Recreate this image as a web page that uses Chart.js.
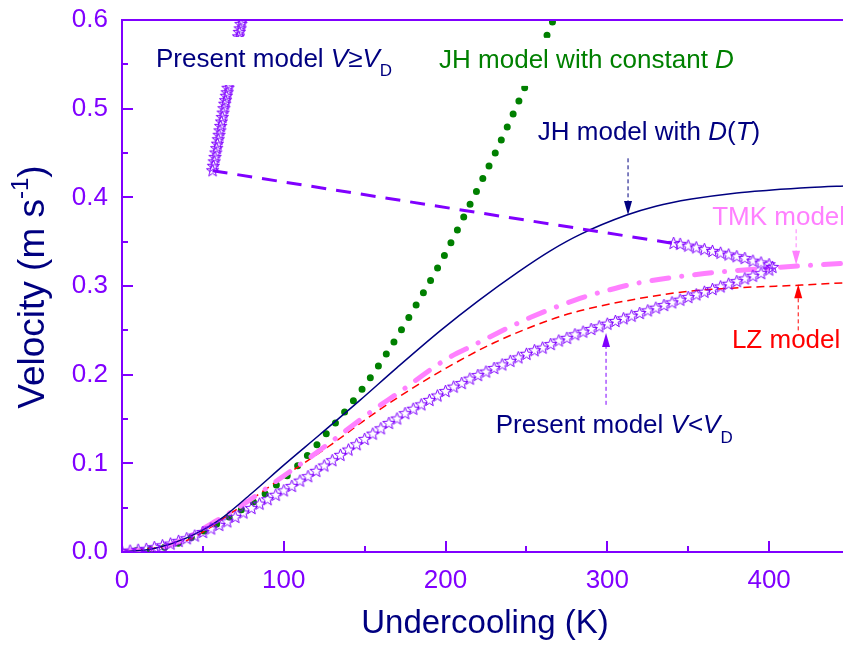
<!DOCTYPE html>
<html>
<head>
<meta charset="utf-8">
<title>Velocity vs undercooling</title>
<script src="https://cdn.jsdelivr.net/npm/chart.js@4.4.1/dist/chart.umd.min.js"></script>
<style>
  html, body { margin: 0; padding: 0; background: #fff; overflow: hidden; }
  #wrap { width: 870px; height: 646px; }
</style>
</head>
<body>
<div id="wrap"><canvas id="chart" width="870" height="646"></canvas></div>
<script>
const PURPLE = '#8000FF';
const NAVY = '#000080';
const GREEN = '#008000';
const PINK = '#FF80FF';
const RED = '#FF0000';
const FONT = '"Liberation Sans", Arial, Helvetica, sans-serif';

// axis ticks
const xTicks = [0, 100, 200, 300, 400];
const xMinor = [50, 150, 250, 350];
const yTicks = [0, 0.1, 0.2, 0.3, 0.4, 0.5, 0.6];
const yMinor = [0.05, 0.15, 0.25, 0.35, 0.45, 0.55];

// present model, V < V_D (lower branch out to the nose, then back)
const presentLowX = [0, 5, 10, 15, 20, 25, 30, 35, 40, 45, 50, 55, 60, 65, 70, 75, 80, 85, 90, 95,
  100, 105, 110, 115, 120, 125, 130, 135, 140, 145, 150, 155, 160, 165, 170, 175, 180, 185, 190, 195,
  200, 205, 210, 215, 220, 225, 230, 235, 240, 245, 250, 255, 260, 265, 270, 275, 280, 285, 290, 295,
  300, 305, 310, 315, 320, 325, 330, 335, 340, 345, 350, 355, 360, 365, 370, 375, 380, 385, 390, 395,
  400, 402, 400, 395, 390, 385, 380, 375, 370, 365, 360, 355, 350, 345, 341];
const presentLowY = [0.000, 0.001, 0.002, 0.003, 0.005, 0.007, 0.009, 0.012, 0.015, 0.018,
  0.022, 0.026, 0.030, 0.034, 0.039, 0.044, 0.049, 0.054, 0.059, 0.064,
  0.069, 0.074, 0.080, 0.085, 0.091, 0.097, 0.103, 0.109, 0.115, 0.121,
  0.127, 0.133, 0.139, 0.145, 0.150, 0.156, 0.161, 0.166, 0.171, 0.176,
  0.181, 0.186, 0.190, 0.195, 0.199, 0.203, 0.207, 0.211, 0.215, 0.219,
  0.223, 0.227, 0.230, 0.234, 0.238, 0.241, 0.245, 0.248, 0.251, 0.254,
  0.257, 0.260, 0.263, 0.266, 0.269, 0.272, 0.275, 0.278, 0.281, 0.284,
  0.287, 0.290, 0.293, 0.296, 0.299, 0.302, 0.305, 0.308, 0.311, 0.314,
  0.318, 0.321, 0.324, 0.326, 0.328, 0.331, 0.333, 0.335, 0.337, 0.339,
  0.341, 0.343, 0.345, 0.347, 0.348];

// present model, V >= V_D (steep branch)
const presentHighX = [56, 56.5, 57, 57.5, 58, 58.5, 59, 59.5, 60, 60.5, 61, 61.5, 62, 62.5, 63, 63.5,
  64, 64.5, 65, 65.5, 66, 66.5, 67, 67.5, 68, 68.5, 69, 69.5, 70, 70.5, 71, 71.5, 72, 72.5, 73, 73.5,
  74, 74.5, 75, 75.5, 76];
const presentHighY = [0.430, 0.435, 0.440, 0.445, 0.450, 0.455, 0.460, 0.465, 0.470, 0.475, 0.480,
  0.485, 0.490, 0.495, 0.500, 0.505, 0.509, 0.514, 0.518, 0.523, 0.527, 0.532, 0.536, 0.541, 0.545,
  0.550, 0.554, 0.559, 0.563, 0.568, 0.572, 0.577, 0.581, 0.586, 0.590, 0.595, 0.599, 0.604, 0.608,
  0.613, 0.617];

// jump between the two branches
const jumpX = [56, 341];
const jumpY = [0.430, 0.348];

// JH model with D(T)
const jhTempX = [0, 20, 40, 60, 80, 100, 122, 147, 170, 197, 220, 245, 265, 283, 312, 330, 352, 380, 400, 425, 450];
const jhTempY = [0, 0.004, 0.016, 0.036, 0.066, 0.098, 0.132, 0.171, 0.208, 0.250, 0.283, 0.316,
  0.340, 0.358, 0.380, 0.390, 0.398, 0.405, 0.408, 0.411, 0.413];

// JH model with constant D
const jhConstX = [0, 30, 60, 80, 93, 109, 128, 147, 165, 181, 198, 214, 232, 249, 265, 272];
const jhConstY = [0, 0.007, 0.033, 0.055, 0.072, 0.098, 0.137, 0.180, 0.228, 0.276, 0.330, 0.388,
  0.455, 0.524, 0.593, 0.625];

// TMK model
const tmkX = [0, 30, 60, 80, 97, 121, 153, 172, 200, 217, 240, 253, 283, 300, 318, 360, 406, 450];
const tmkY = [0, 0.008, 0.037, 0.060, 0.082, 0.113, 0.157, 0.181, 0.217, 0.233, 0.254, 0.265,
  0.286, 0.295, 0.303, 0.314, 0.321, 0.326];

// LZ model
const lzX = [0, 40, 70, 100, 130, 151, 172, 200, 230, 265, 283, 320, 350, 381, 420, 450];
const lzY = [0, 0.013, 0.047, 0.085, 0.122, 0.150, 0.176, 0.207, 0.236, 0.262, 0.272, 0.286,
  0.294, 0.298, 0.301, 0.304];

const toXY = (xs, ys) => xs.map((x, i) => ({ x: x, y: ys[i] }));

// open five-pointed star used as the point marker
function makeStar(r, color) {
  const c = document.createElement('canvas');
  const s = Math.ceil(r * 2 + 2);
  c.width = s;
  c.height = s;
  const g = c.getContext('2d');
  g.strokeStyle = color;
  g.lineWidth = 1;
  g.beginPath();
  for (let i = 0; i < 10; i++) {
    const rad = i % 2 ? r * 0.42 : r;
    const a = -Math.PI / 2 + i * Math.PI / 5;
    const px = s / 2 + rad * Math.cos(a);
    const py = s / 2 + rad * Math.sin(a);
    if (i) g.lineTo(px, py); else g.moveTo(px, py);
  }
  g.closePath();
  g.stroke();
  return c;
}
const starImg = makeStar(6.5, PURPLE);

// text notes (data coords of the left end of the baseline)
const notes = [
  { x: 21, y: 0.547, color: NAVY, bg: true,
    runs: [{ t: 'Present model ' }, { t: 'V', it: true }, { t: '\u2265' }, { t: 'V', it: true }, { t: 'D', sub: true }] },
  { x: 196, y: 0.546, color: GREEN, bg: true,
    runs: [{ t: 'JH model with constant ' }, { t: 'D', it: true }] },
  { x: 257, y: 0.465, color: NAVY,
    runs: [{ t: 'JH model with ' }, { t: 'D', it: true }, { t: '(' }, { t: 'T', it: true }, { t: ')' }] },
  { x: 364.8, y: 0.369, color: PINK, runs: [{ t: 'TMK model' }] },
  { x: 377, y: 0.230, color: RED, runs: [{ t: 'LZ model' }] },
  { x: 231, y: 0.134, color: NAVY,
    runs: [{ t: 'Present model ' }, { t: 'V', it: true }, { t: '<' }, { t: 'V', it: true }, { t: 'D', sub: true }] }
];

// dashed pointer arrows: x, tail y, tip y
const arrows = [
  { x: 312.8, from: 0.444, to: 0.380, color: NAVY },
  { x: 416.7, from: 0.364, to: 0.324, color: PINK },
  { x: 418, from: 0.250, to: 0.302, color: RED },
  { x: 299.2, from: 0.166, to: 0.247, color: PURPLE }
];

function drawRuns(ctx, x, y, runs, size, measureOnly) {
  let cx = x;
  runs.forEach(r => {
    const fs = (r.sub || r.sup) ? Math.round(size * 0.66) : size;
    ctx.font = (r.it ? 'italic ' : '') + fs + 'px ' + FONT;
    const dy = r.sub ? size * 0.36 : (r.sup ? -size * 0.42 : 0);
    if (!measureOnly) ctx.fillText(r.t, cx, y + dy);
    cx += ctx.measureText(r.t).width;
  });
  return cx - x;
}

const decorations = {
  id: 'decorations',
  afterDatasetsDraw(chart) {
    const { ctx, chartArea: a } = chart;
    const xs = chart.scales.x;
    const ys = chart.scales.y;
    ctx.save();

    // notes, some on a white box
    ctx.textBaseline = 'alphabetic';
    ctx.textAlign = 'left';
    notes.forEach(n => {
      const px = xs.getPixelForValue(n.x);
      const py = ys.getPixelForValue(n.y);
      const w = drawRuns(ctx, px, py, n.runs, 26, true);
      if (n.bg) {
        ctx.fillStyle = '#fff';
        ctx.fillRect(px - 4, py - 30, w + 8, 48);
      }
      ctx.fillStyle = n.color;
      drawRuns(ctx, px, py, n.runs, 26, false);
    });

    // arrows
    arrows.forEach(ar => {
      const px = xs.getPixelForValue(ar.x);
      const p0 = ys.getPixelForValue(ar.from);
      const p1 = ys.getPixelForValue(ar.to);
      const dir = p1 > p0 ? 1 : -1;
      const head = 14;
      ctx.strokeStyle = ar.color;
      ctx.fillStyle = ar.color;
      ctx.lineWidth = 1;
      ctx.setLineDash([4, 3]);
      ctx.beginPath();
      ctx.moveTo(px, p0);
      ctx.lineTo(px, p1 - dir * head);
      ctx.stroke();
      ctx.setLineDash([]);
      ctx.beginPath();
      ctx.moveTo(px, p1);
      ctx.lineTo(px - 4, p1 - dir * head);
      ctx.lineTo(px + 4, p1 - dir * head);
      ctx.closePath();
      ctx.fill();
    });

    // top frame line
    ctx.strokeStyle = PURPLE;
    ctx.lineWidth = 2;
    ctx.beginPath();
    ctx.moveTo(a.left, a.top);
    ctx.lineTo(a.right, a.top);
    ctx.stroke();

    // inward tick marks
    ctx.lineWidth = 2;
    ctx.beginPath();
    xTicks.concat(xMinor).forEach(v => {
      const px = Math.round(xs.getPixelForValue(v));
      const len = xMinor.includes(v) ? 6 : 11;
      ctx.moveTo(px, a.bottom);
      ctx.lineTo(px, a.bottom - len);
    });
    yTicks.concat(yMinor).forEach(v => {
      const py = Math.round(ys.getPixelForValue(v));
      const len = yMinor.includes(v) ? 6 : 11;
      ctx.moveTo(a.left, py);
      ctx.lineTo(a.left + len, py);
    });
    ctx.stroke();

    // axis titles
    ctx.fillStyle = NAVY;
    ctx.textAlign = 'center';
    ctx.font = '33px ' + FONT;
    ctx.fillText('Undercooling (K)', (a.left + a.right) / 2 - 1, 633);

    const yRuns = [{ t: 'Velocity (m s' }, { t: '-1', sup: true }, { t: ')' }];
    ctx.textAlign = 'left';
    const tw = drawRuns(ctx, 0, 0, yRuns, 37, true);
    ctx.translate(44, 287);
    ctx.rotate(-Math.PI / 2);
    drawRuns(ctx, -tw / 2, 0, yRuns, 37, false);

    ctx.restore();
  }
};

new Chart(document.getElementById('chart'), {
  type: 'line',
  data: {
    datasets: [
      {
        label: 'Present model V<VD',
        data: toXY(presentLowX, presentLowY),
        showLine: false,
        pointStyle: starImg,
        pointRadius: 7,
        clip: 0
      },
      {
        label: 'Present model V>=VD',
        data: toXY(presentHighX, presentHighY),
        showLine: false,
        pointStyle: starImg,
        pointRadius: 7,
        clip: 0
      },
      {
        label: 'jump',
        data: toXY(jumpX, jumpY),
        borderColor: PURPLE,
        borderWidth: 3,
        borderDash: [15, 10],
        pointRadius: 0,
        clip: 0
      },
      {
        label: 'JH model with D(T)',
        data: toXY(jhTempX, jhTempY),
        borderColor: NAVY,
        borderWidth: 1.5,
        cubicInterpolationMode: 'monotone',
        pointRadius: 0,
        clip: 0
      },
      {
        label: 'TMK model',
        data: toXY(tmkX, tmkY),
        borderColor: PINK,
        borderWidth: 5,
        borderCapStyle: 'round',
        borderDash: [17, 13, 0.1, 13],
        cubicInterpolationMode: 'monotone',
        pointRadius: 0,
        clip: 0
      },
      {
        label: 'LZ model',
        data: toXY(lzX, lzY),
        borderColor: RED,
        borderWidth: 1.5,
        borderDash: [8, 5],
        cubicInterpolationMode: 'monotone',
        pointRadius: 0,
        clip: 0
      },
      {
        label: 'JH model with constant D',
        data: toXY(jhConstX, jhConstY),
        borderColor: GREEN,
        borderWidth: 7,
        borderCapStyle: 'round',
        borderDash: [0, 14.3],
        cubicInterpolationMode: 'monotone',
        pointRadius: 0,
        clip: 0
      }
    ]
  },
  options: {
    responsive: false,
    animation: false,
    layout: { padding: { top: 20, right: 20, left: 0, bottom: 0 } },
    plugins: {
      legend: { display: false },
      tooltip: { enabled: false }
    },
    scales: {
      x: {
        type: 'linear',
        min: 0,
        max: 450,
        grid: { display: false, drawTicks: false },
        border: { color: PURPLE, width: 2 },
        ticks: {
          color: PURPLE,
          padding: 13,
          font: { family: FONT, size: 26 },
          callback: v => String(v)
        },
        afterBuildTicks: s => { s.ticks = xTicks.map(v => ({ value: v })); },
        afterFit: s => { s.height = 94; s.paddingLeft = 0; s.paddingRight = 0; }
      },
      y: {
        type: 'linear',
        min: 0,
        max: 0.6,
        grid: { display: false, drawTicks: false },
        border: { color: PURPLE, width: 2 },
        ticks: {
          color: PURPLE,
          padding: 14,
          font: { family: FONT, size: 26 },
          callback: v => v.toFixed(1)
        },
        afterBuildTicks: s => { s.ticks = yTicks.map(v => ({ value: v })); },
        afterFit: s => { s.width = 122; s.paddingTop = 0; s.paddingBottom = 0; }
      }
    }
  },
  plugins: [decorations]
});
</script>
</body>
</html>
